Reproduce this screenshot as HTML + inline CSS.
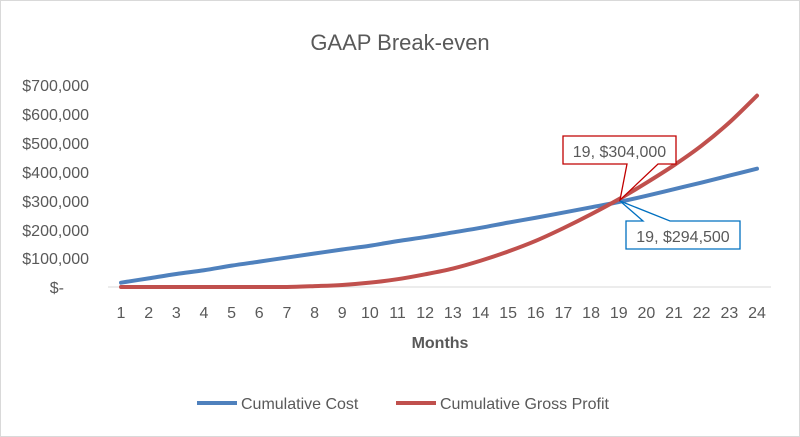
<!DOCTYPE html>
<html><head><meta charset="utf-8"><style>
html,body{margin:0;padding:0;background:#fff}
svg{display:block;font-family:"Liberation Sans",sans-serif}
</style></head><body>
<svg id="s" width="800" height="437" viewBox="0 0 800 437" xmlns="http://www.w3.org/2000/svg">
<rect x="0.5" y="0.5" width="799" height="436" fill="#fff" stroke="#d9d9d9"/>
<text x="400" y="50" text-anchor="middle" font-size="22" fill="#595959">GAAP Break-even</text>
<g font-size="16" fill="#595959" text-anchor="end">
<text x="89" y="91">$700,000</text>
<text x="89" y="120">$600,000</text>
<text x="89" y="149">$500,000</text>
<text x="89" y="178">$400,000</text>
<text x="89" y="207">$300,000</text>
<text x="89" y="236">$200,000</text>
<text x="89" y="264">$100,000</text>
<text x="64" y="293">$-</text>
</g>
<line x1="108" y1="287" x2="771" y2="287" stroke="#d9d9d9" stroke-width="1"/>
<g id="xt" font-size="16" fill="#595959" text-anchor="middle"></g>
<text x="440" y="348" text-anchor="middle" font-size="16" font-weight="bold" fill="#595959">Months</text>
<path id="blue" fill="none" stroke="#4f81bd" stroke-width="4" stroke-linejoin="round" stroke-linecap="round"/>
<path id="red" fill="none" stroke="#c0504d" stroke-width="4" stroke-linejoin="round" stroke-linecap="round"/>
<polygon points="563,136 676,136 676,164 658,164 620,200 627,164 563,164" fill="#fff" stroke="#c00000" stroke-width="1.3"/>
<text x="619.5" y="157" text-anchor="middle" font-size="16" fill="#595959">19, $304,000</text>
<polygon points="626,221 643,221 620,201 670,221 740,221 740,249 626,249" fill="#fff" stroke="#0070c0" stroke-width="1.3"/>
<text x="683" y="242" text-anchor="middle" font-size="16" fill="#595959">19, $294,500</text>
<line x1="197" y1="403" x2="237" y2="403" stroke="#4f81bd" stroke-width="4"/>
<text x="241" y="409" font-size="16" fill="#595959">Cumulative Cost</text>
<line x1="396" y1="403" x2="436" y2="403" stroke="#c0504d" stroke-width="4"/>
<text x="440" y="409" font-size="16" fill="#595959">Cumulative Gross Profit</text>
</svg>
<script>
var b=[15,30,45,58,74,88,102,116,130,143,159,173,189,205,223,240,258,276,294.5,316,339,362,386,410];
var r=[0,0,0,0,0,0,0,3,7,15,27,44,64,91,123,160,204,252,304,361,422,490,570,663];
function X(i){return 121+i*27.652}function Y(v){return 287-v*0.2886}
function sm(a){var p=a.map(function(v,i){return [X(i),Y(v)]});var d='M'+p[0][0]+','+p[0][1];
for(var i=0;i<p.length-1;i++){var p0=p[i-1]||p[i],p1=p[i],p2=p[i+1],p3=p[i+2]||p2;var t=6;
d+=' C'+(p1[0]+(p2[0]-p0[0])/t)+','+(p1[1]+(p2[1]-p0[1])/t)+' '+(p2[0]-(p3[0]-p1[0])/t)+','+(p2[1]-(p3[1]-p1[1])/t)+' '+p2[0]+','+p2[1];}return d;}
document.getElementById('blue').setAttribute('d',sm(b));
document.getElementById('red').setAttribute('d',sm(r));
var g=document.getElementById('xt'),h='';
for(var i=0;i<24;i++)h+='<text x="'+X(i)+'" y="318">'+(i+1)+'</text>';
g.innerHTML=h;
</script>
</body></html>
